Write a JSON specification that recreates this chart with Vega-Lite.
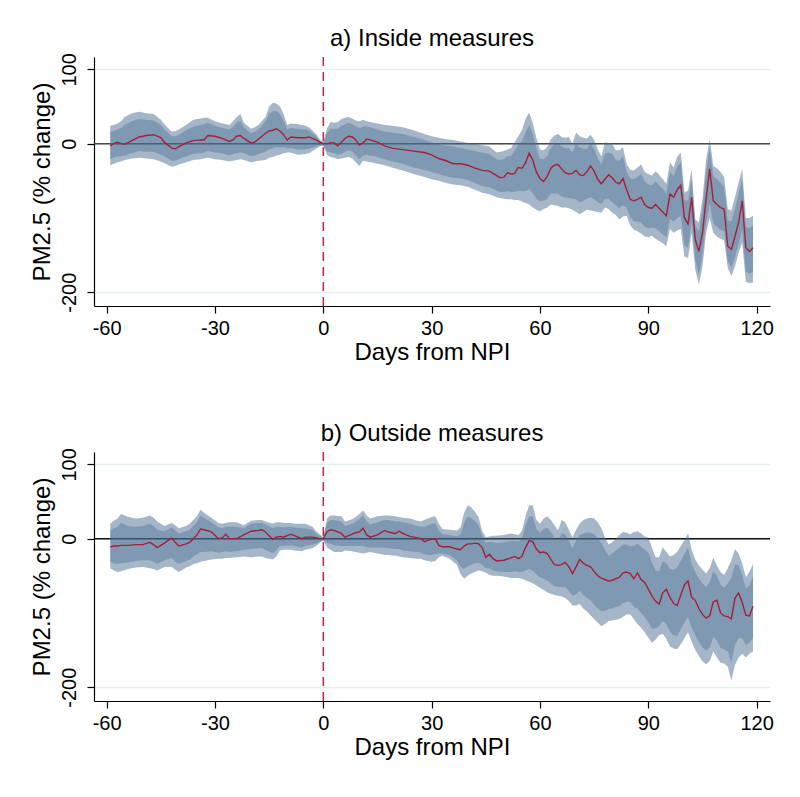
{
"$schema": "https://vega.github.io/schema/vega-lite/v6.json",
"background": "white",
"padding": {"left": 30, "top": 26, "right": 20, "bottom": 5},
"spacing": 57,
"config": {
  "font": "Liberation Sans",
  "view": {"stroke": null},
  "axis": {"domainColor": "black", "tickColor": "black", "labelColor": "black", "titleColor": "black", "labelFontSize": 20, "titleFontSize": 24, "titleFontWeight": "normal", "tickSize": 7, "domainWidth": 1.2, "tickWidth": 1.2, "labelFlush": false, "labelOverlap": false},
  "title": {"fontSize": 24, "fontWeight": "normal", "color": "black", "anchor": "middle"}
},
"datasets": {
"a": [
{"d":-59,"m":-3,"h":24,"l":-29,"h9":16,"l9":-21},
{"d":-58,"m":0,"h":25,"l":-27,"h9":17,"l9":-19},
{"d":-57,"m":2,"h":27,"l":-25,"h9":19,"l9":-17},
{"d":-56,"m":0,"h":30,"l":-24,"h9":21,"l9":-17},
{"d":-55,"m":-1,"h":36,"l":-22,"h9":25,"l9":-16},
{"d":-53,"m":4,"h":41,"l":-20,"h9":30,"l9":-13},
{"d":-51,"m":9,"h":43,"l":-19,"h9":33,"l9":-10},
{"d":-49,"m":11,"h":41,"l":-20,"h9":32,"l9":-11},
{"d":-47,"m":12,"h":40,"l":-21,"h9":31,"l9":-11},
{"d":-45,"m":8,"h":32,"l":-24,"h9":25,"l9":-15},
{"d":-44,"m":2,"h":26,"l":-26,"h9":19,"l9":-17},
{"d":-42,"m":-6,"h":16,"l":-31,"h9":10,"l9":-23},
{"d":-41,"m":-7,"h":17,"l":-30,"h9":10,"l9":-23},
{"d":-40,"m":-4,"h":19,"l":-28,"h9":12,"l9":-21},
{"d":-38,"m":1,"h":25,"l":-25,"h9":18,"l9":-17},
{"d":-36,"m":4,"h":32,"l":-22,"h9":23,"l9":-14},
{"d":-34,"m":5,"h":34,"l":-21,"h9":25,"l9":-13},
{"d":-33,"m":5,"h":35,"l":-20,"h9":26,"l9":-12},
{"d":-32,"m":11,"h":35,"l":-19,"h9":28,"l9":-10},
{"d":-30,"m":10,"h":30,"l":-21,"h9":24,"l9":-12},
{"d":-28,"m":7,"h":27,"l":-22,"h9":21,"l9":-13},
{"d":-26,"m":3,"h":25,"l":-24,"h9":19,"l9":-16},
{"d":-25,"m":5,"h":30,"l":-23,"h9":22,"l9":-14},
{"d":-24,"m":10,"h":36,"l":-22,"h9":28,"l9":-13},
{"d":-23,"m":11,"h":40,"l":-21,"h9":31,"l9":-12},
{"d":-22,"m":7,"h":28,"l":-22,"h9":22,"l9":-13},
{"d":-20,"m":1,"h":20,"l":-25,"h9":14,"l9":-17},
{"d":-19,"m":2,"h":22,"l":-24,"h9":16,"l9":-16},
{"d":-18,"m":6,"h":25,"l":-23,"h9":19,"l9":-14},
{"d":-16,"m":14,"h":36,"l":-22,"h9":30,"l9":-11},
{"d":-15,"m":17,"h":50,"l":-19,"h9":40,"l9":-8},
{"d":-14,"m":18,"h":55,"l":-18,"h9":44,"l9":-7},
{"d":-13,"m":20,"h":54,"l":-16,"h9":44,"l9":-5},
{"d":-12,"m":17,"h":50,"l":-15,"h9":40,"l9":-6},
{"d":-11,"m":12,"h":40,"l":-13,"h9":31,"l9":-5},
{"d":-10,"m":5,"h":25,"l":-12,"h9":19,"l9":-7},
{"d":-9,"m":9,"h":27,"l":-12,"h9":21,"l9":-6},
{"d":-7,"m":8,"h":26,"l":-15,"h9":20,"l9":-8},
{"d":-5,"m":8,"h":24,"l":-14,"h9":19,"l9":-8},
{"d":-4,"m":9,"h":22,"l":-13,"h9":18,"l9":-7},
{"d":-2,"m":5,"h":13,"l":-7,"h9":10,"l9":-4},
{"d":-1,"m":2,"h":6,"l":-4,"h9":4,"l9":-2},
{"d":0,"m":0,"h":2,"l":-3,"h9":2,"l9":-2},
{"d":1,"m":0,"h":20,"l":-15,"h9":14,"l9":-10},
{"d":2,"m":1,"h":29,"l":-18,"h9":20,"l9":-12},
{"d":3,"m":1,"h":28,"l":-19,"h9":20,"l9":-13},
{"d":4,"m":-3,"h":29,"l":-21,"h9":20,"l9":-15},
{"d":5,"m":2,"h":33,"l":-20,"h9":24,"l9":-14},
{"d":6,"m":7,"h":35,"l":-19,"h9":26,"l9":-11},
{"d":7,"m":10,"h":36,"l":-18,"h9":28,"l9":-9},
{"d":8,"m":9,"h":34,"l":-20,"h9":26,"l9":-11},
{"d":9,"m":5,"h":31,"l":-25,"h9":23,"l9":-16},
{"d":10,"m":-2,"h":30,"l":-30,"h9":21,"l9":-21},
{"d":11,"m":1,"h":32,"l":-23,"h9":23,"l9":-16},
{"d":12,"m":6,"h":30,"l":-24,"h9":23,"l9":-15},
{"d":13,"m":5,"h":29,"l":-25,"h9":22,"l9":-16},
{"d":15,"m":2,"h":27,"l":-27,"h9":19,"l9":-18},
{"d":17,"m":-3,"h":25,"l":-29,"h9":16,"l9":-21},
{"d":19,"m":-6,"h":24,"l":-32,"h9":15,"l9":-24},
{"d":22,"m":-8,"h":22,"l":-36,"h9":13,"l9":-27},
{"d":25,"m":-10,"h":18,"l":-41,"h9":9,"l9":-32},
{"d":28,"m":-12,"h":13,"l":-45,"h9":5,"l9":-35},
{"d":30,"m":-15,"h":10,"l":-48,"h9":2,"l9":-38},
{"d":32,"m":-20,"h":8,"l":-50,"h9":-1,"l9":-41},
{"d":34,"m":-23,"h":6,"l":-53,"h9":-3,"l9":-44},
{"d":36,"m":-27,"h":5,"l":-55,"h9":-4,"l9":-46},
{"d":38,"m":-27,"h":3,"l":-56,"h9":-6,"l9":-47},
{"d":40,"m":-29,"h":1,"l":-58,"h9":-8,"l9":-49},
{"d":42,"m":-33,"h":0,"l":-62,"h9":-10,"l9":-53},
{"d":44,"m":-36,"h":-2,"l":-66,"h9":-12,"l9":-57},
{"d":46,"m":-37,"h":-4,"l":-68,"h9":-14,"l9":-59},
{"d":48,"m":-43,"h":-12,"l":-72,"h9":-21,"l9":-63},
{"d":49,"m":-46,"h":-11,"l":-73,"h9":-22,"l9":-65},
{"d":50,"m":-45,"h":-10,"l":-74,"h9":-21,"l9":-65},
{"d":51,"m":-39,"h":-8,"l":-75,"h9":-17,"l9":-64},
{"d":52,"m":-41,"h":-6,"l":-75,"h9":-17,"l9":-65},
{"d":53,"m":-40,"h":2,"l":-76,"h9":-10,"l9":-65},
{"d":54,"m":-32,"h":10,"l":-76,"h9":-2,"l9":-63},
{"d":55,"m":-33,"h":18,"l":-78,"h9":3,"l9":-64},
{"d":56,"m":-26,"h":33,"l":-80,"h9":15,"l9":-64},
{"d":57,"m":-13,"h":42,"l":-82,"h9":25,"l9":-61},
{"d":58,"m":-22,"h":28,"l":-86,"h9":13,"l9":-67},
{"d":59,"m":-38,"h":8,"l":-89,"h9":-6,"l9":-74},
{"d":60,"m":-47,"h":-8,"l":-91,"h9":-20,"l9":-78},
{"d":61,"m":-51,"h":-9,"l":-88,"h9":-21,"l9":-77},
{"d":62,"m":-44,"h":-5,"l":-86,"h9":-17,"l9":-74},
{"d":63,"m":-33,"h":6,"l":-82,"h9":-6,"l9":-67},
{"d":64,"m":-29,"h":11,"l":-83,"h9":-1,"l9":-67},
{"d":65,"m":-28,"h":13,"l":-84,"h9":1,"l9":-67},
{"d":66,"m":-34,"h":9,"l":-86,"h9":-4,"l9":-71},
{"d":67,"m":-39,"h":8,"l":-86,"h9":-6,"l9":-72},
{"d":68,"m":-41,"h":9,"l":-87,"h9":-6,"l9":-73},
{"d":69,"m":-40,"h":0,"l":-89,"h9":-12,"l9":-74},
{"d":70,"m":-36,"h":15,"l":-92,"h9":0,"l9":-75},
{"d":71,"m":-42,"h":10,"l":-95,"h9":-5,"l9":-79},
{"d":72,"m":-43,"h":8,"l":-92,"h9":-7,"l9":-77},
{"d":73,"m":-38,"h":7,"l":-89,"h9":-7,"l9":-74},
{"d":74,"m":-30,"h":12,"l":-90,"h9":0,"l9":-72},
{"d":75,"m":-37,"h":5,"l":-91,"h9":-7,"l9":-75},
{"d":76,"m":-48,"h":-8,"l":-92,"h9":-20,"l9":-79},
{"d":77,"m":-54,"h":-17,"l":-93,"h9":-28,"l9":-81},
{"d":78,"m":-48,"h":2,"l":-86,"h9":-13,"l9":-74},
{"d":79,"m":-42,"h":1,"l":-88,"h9":-12,"l9":-74},
{"d":80,"m":-46,"h":0,"l":-93,"h9":-14,"l9":-79},
{"d":81,"m":-52,"h":-9,"l":-96,"h9":-22,"l9":-83},
{"d":82,"m":-54,"h":-9,"l":-102,"h9":-23,"l9":-87},
{"d":83,"m":-47,"h":-5,"l":-98,"h9":-17,"l9":-83},
{"d":84,"m":-62,"h":-28,"l":-97,"h9":-38,"l9":-86},
{"d":85,"m":-75,"h":-35,"l":-110,"h9":-47,"l9":-99},
{"d":86,"m":-77,"h":-36,"l":-116,"h9":-48,"l9":-104},
{"d":87,"m":-75,"h":-32,"l":-118,"h9":-45,"l9":-105},
{"d":88,"m":-72,"h":-28,"l":-121,"h9":-41,"l9":-106},
{"d":89,"m":-82,"h":-38,"l":-125,"h9":-51,"l9":-112},
{"d":90,"m":-86,"h":-41,"l":-126,"h9":-55,"l9":-114},
{"d":91,"m":-87,"h":-43,"l":-124,"h9":-56,"l9":-113},
{"d":92,"m":-82,"h":-37,"l":-128,"h9":-51,"l9":-114},
{"d":93,"m":-87,"h":-42,"l":-131,"h9":-56,"l9":-118},
{"d":94,"m":-92,"h":-48,"l":-134,"h9":-61,"l9":-122},
{"d":95,"m":-97,"h":-54,"l":-138,"h9":-67,"l9":-126},
{"d":96,"m":-68,"h":-25,"l":-115,"h9":-38,"l9":-101},
{"d":97,"m":-72,"h":-32,"l":-120,"h9":-44,"l9":-105},
{"d":98,"m":-62,"h":-18,"l":-117,"h9":-31,"l9":-100},
{"d":99,"m":-56,"h":-12,"l":-115,"h9":-25,"l9":-97},
{"d":100,"m":-100,"h":-66,"l":-152,"h9":-76,"l9":-137},
{"d":101,"m":-108,"h":-63,"l":-154,"h9":-77,"l9":-140},
{"d":102,"m":-72,"h":-34,"l":-120,"h9":-46,"l9":-105},
{"d":103,"m":-129,"h":-102,"l":-169,"h9":-110,"l9":-157},
{"d":104,"m":-145,"h":-106,"l":-190,"h9":-118,"l9":-176},
{"d":105,"m":-120,"h":-75,"l":-165,"h9":-89,"l9":-151},
{"d":106,"m":-75,"h":-22,"l":-120,"h9":-38,"l9":-106},
{"d":107,"m":-34,"h":6,"l":-100,"h9":-6,"l9":-80},
{"d":108,"m":-77,"h":-30,"l":-120,"h9":-44,"l9":-107},
{"d":109,"m":-82,"h":-33,"l":-125,"h9":-48,"l9":-112},
{"d":110,"m":-86,"h":-38,"l":-128,"h9":-53,"l9":-116},
{"d":111,"m":-88,"h":-45,"l":-130,"h9":-58,"l9":-118},
{"d":112,"m":-138,"h":-88,"l":-167,"h9":-103,"l9":-158},
{"d":113,"m":-142,"h":-90,"l":-178,"h9":-105,"l9":-167},
{"d":114,"m":-125,"h":-72,"l":-165,"h9":-88,"l9":-153},
{"d":115,"m":-106,"h":-52,"l":-147,"h9":-68,"l9":-135},
{"d":116,"m":-77,"h":-34,"l":-133,"h9":-47,"l9":-116},
{"d":117,"m":-140,"h":-100,"l":-186,"h9":-112,"l9":-172},
{"d":118,"m":-145,"h":-100,"l":-188,"h9":-114,"l9":-175},
{"d":119,"m":-140,"h":-97,"l":-187,"h9":-110,"l9":-173}
],
"b": [
{"d":-59,"m":-11,"h":20,"l":-40,"h9":11,"l9":-31},
{"d":-58,"m":-10,"h":24,"l":-43,"h9":14,"l9":-33},
{"d":-57,"m":-10,"h":27,"l":-45,"h9":16,"l9":-34},
{"d":-56,"m":-9,"h":33,"l":-44,"h9":21,"l9":-33},
{"d":-54,"m":-9,"h":29,"l":-41,"h9":17,"l9":-32},
{"d":-52,"m":-8,"h":27,"l":-39,"h9":16,"l9":-30},
{"d":-50,"m":-8,"h":28,"l":-38,"h9":17,"l9":-29},
{"d":-48,"m":-5,"h":31,"l":-40,"h9":20,"l9":-29},
{"d":-47,"m":-8,"h":28,"l":-41,"h9":17,"l9":-31},
{"d":-46,"m":-12,"h":23,"l":-43,"h9":12,"l9":-34},
{"d":-44,"m":-6,"h":17,"l":-38,"h9":10,"l9":-29},
{"d":-42,"m":1,"h":21,"l":-38,"h9":15,"l9":-26},
{"d":-41,"m":-5,"h":18,"l":-42,"h9":11,"l9":-31},
{"d":-40,"m":-10,"h":14,"l":-45,"h9":7,"l9":-34},
{"d":-38,"m":-7,"h":17,"l":-39,"h9":10,"l9":-30},
{"d":-37,"m":-5,"h":20,"l":-37,"h9":12,"l9":-28},
{"d":-36,"m":0,"h":25,"l":-34,"h9":17,"l9":-24},
{"d":-35,"m":5,"h":30,"l":-33,"h9":22,"l9":-21},
{"d":-34,"m":13,"h":39,"l":-31,"h9":31,"l9":-18},
{"d":-33,"m":12,"h":35,"l":-30,"h9":28,"l9":-18},
{"d":-31,"m":9,"h":28,"l":-28,"h9":22,"l9":-17},
{"d":-29,"m":0,"h":21,"l":-27,"h9":15,"l9":-19},
{"d":-28,"m":1,"h":20,"l":-27,"h9":14,"l9":-18},
{"d":-27,"m":6,"h":21,"l":-26,"h9":16,"l9":-17},
{"d":-26,"m":0,"h":22,"l":-26,"h9":16,"l9":-18},
{"d":-24,"m":0,"h":22,"l":-25,"h9":16,"l9":-17},
{"d":-22,"m":5,"h":18,"l":-24,"h9":14,"l9":-15},
{"d":-20,"m":10,"h":24,"l":-25,"h9":20,"l9":-14},
{"d":-18,"m":11,"h":25,"l":-24,"h9":21,"l9":-13},
{"d":-17,"m":12,"h":25,"l":-24,"h9":21,"l9":-13},
{"d":-16,"m":9,"h":23,"l":-26,"h9":19,"l9":-15},
{"d":-14,"m":-1,"h":20,"l":-28,"h9":14,"l9":-20},
{"d":-13,"m":2,"h":22,"l":-24,"h9":16,"l9":-16},
{"d":-12,"m":3,"h":22,"l":-16,"h9":16,"l9":-10},
{"d":-11,"m":2,"h":21,"l":-15,"h9":15,"l9":-10},
{"d":-9,"m":6,"h":21,"l":-15,"h9":16,"l9":-9},
{"d":-8,"m":4,"h":20,"l":-16,"h9":15,"l9":-10},
{"d":-6,"m":0,"h":20,"l":-17,"h9":14,"l9":-12},
{"d":-5,"m":2,"h":20,"l":-15,"h9":14,"l9":-10},
{"d":-3,"m":2,"h":16,"l":-13,"h9":12,"l9":-8},
{"d":-2,"m":1,"h":10,"l":-10,"h9":7,"l9":-7},
{"d":-1,"m":0,"h":6,"l":-6,"h9":4,"l9":-4},
{"d":0,"m":0,"h":2,"l":-2,"h9":2,"l9":-2},
{"d":1,"m":9,"h":27,"l":-12,"h9":21,"l9":-6},
{"d":2,"m":12,"h":31,"l":-15,"h9":25,"l9":-7},
{"d":3,"m":11,"h":31,"l":-18,"h9":25,"l9":-9},
{"d":5,"m":7,"h":30,"l":-18,"h9":23,"l9":-10},
{"d":6,"m":2,"h":23,"l":-16,"h9":17,"l9":-10},
{"d":8,"m":6,"h":26,"l":-17,"h9":20,"l9":-10},
{"d":9,"m":8,"h":29,"l":-18,"h9":23,"l9":-10},
{"d":10,"m":9,"h":33,"l":-19,"h9":26,"l9":-10},
{"d":11,"m":14,"h":38,"l":-20,"h9":31,"l9":-10},
{"d":12,"m":5,"h":31,"l":-19,"h9":23,"l9":-12},
{"d":13,"m":2,"h":27,"l":-18,"h9":19,"l9":-12},
{"d":15,"m":5,"h":30,"l":-20,"h9":22,"l9":-12},
{"d":17,"m":11,"h":31,"l":-22,"h9":25,"l9":-12},
{"d":18,"m":9,"h":31,"l":-22,"h9":25,"l9":-13},
{"d":20,"m":7,"h":30,"l":-23,"h9":23,"l9":-14},
{"d":21,"m":10,"h":29,"l":-24,"h9":23,"l9":-14},
{"d":22,"m":7,"h":28,"l":-25,"h9":22,"l9":-16},
{"d":24,"m":3,"h":27,"l":-26,"h9":20,"l9":-17},
{"d":26,"m":1,"h":24,"l":-27,"h9":17,"l9":-18},
{"d":27,"m":0,"h":23,"l":-27,"h9":16,"l9":-19},
{"d":28,"m":-4,"h":25,"l":-29,"h9":16,"l9":-21},
{"d":29,"m":-2,"h":27,"l":-30,"h9":18,"l9":-22},
{"d":30,"m":-1,"h":29,"l":-31,"h9":20,"l9":-22},
{"d":31,"m":0,"h":30,"l":-30,"h9":21,"l9":-21},
{"d":32,"m":-9,"h":20,"l":-25,"h9":11,"l9":-20},
{"d":33,"m":-11,"h":13,"l":-23,"h9":6,"l9":-20},
{"d":35,"m":-11,"h":12,"l":-27,"h9":5,"l9":-22},
{"d":37,"m":-14,"h":11,"l":-35,"h9":3,"l9":-29},
{"d":38,"m":-15,"h":15,"l":-48,"h9":6,"l9":-38},
{"d":39,"m":-10,"h":35,"l":-54,"h9":21,"l9":-41},
{"d":40,"m":-7,"h":45,"l":-50,"h9":30,"l9":-37},
{"d":41,"m":-7,"h":42,"l":-47,"h9":27,"l9":-35},
{"d":42,"m":-6,"h":36,"l":-45,"h9":24,"l9":-33},
{"d":43,"m":-7,"h":29,"l":-43,"h9":18,"l9":-32},
{"d":44,"m":-12,"h":10,"l":-44,"h9":4,"l9":-35},
{"d":45,"m":-25,"h":2,"l":-46,"h9":-6,"l9":-40},
{"d":46,"m":-21,"h":3,"l":-49,"h9":-4,"l9":-40},
{"d":47,"m":-27,"h":4,"l":-50,"h9":-5,"l9":-43},
{"d":48,"m":-30,"h":4,"l":-50,"h9":-6,"l9":-44},
{"d":50,"m":-29,"h":5,"l":-51,"h9":-5,"l9":-45},
{"d":52,"m":-26,"h":7,"l":-53,"h9":-3,"l9":-45},
{"d":53,"m":-24,"h":6,"l":-53,"h9":-3,"l9":-44},
{"d":54,"m":-27,"h":5,"l":-53,"h9":-4,"l9":-45},
{"d":55,"m":-24,"h":10,"l":-54,"h9":0,"l9":-45},
{"d":56,"m":-12,"h":30,"l":-56,"h9":18,"l9":-43},
{"d":57,"m":-3,"h":45,"l":-58,"h9":30,"l9":-41},
{"d":58,"m":-4,"h":45,"l":-60,"h9":30,"l9":-43},
{"d":59,"m":-14,"h":25,"l":-63,"h9":13,"l9":-48},
{"d":60,"m":-19,"h":20,"l":-66,"h9":8,"l9":-52},
{"d":61,"m":-18,"h":27,"l":-69,"h9":13,"l9":-54},
{"d":62,"m":-20,"h":30,"l":-72,"h9":15,"l9":-57},
{"d":63,"m":-28,"h":25,"l":-74,"h9":9,"l9":-60},
{"d":64,"m":-35,"h":18,"l":-76,"h9":2,"l9":-64},
{"d":65,"m":-36,"h":11,"l":-77,"h9":-3,"l9":-65},
{"d":66,"m":-35,"h":25,"l":-78,"h9":7,"l9":-65},
{"d":67,"m":-32,"h":22,"l":-80,"h9":6,"l9":-65},
{"d":68,"m":-38,"h":12,"l":-84,"h9":-3,"l9":-70},
{"d":69,"m":-47,"h":2,"l":-90,"h9":-13,"l9":-77},
{"d":70,"m":-38,"h":12,"l":-90,"h9":-3,"l9":-75},
{"d":71,"m":-28,"h":20,"l":-88,"h9":5,"l9":-70},
{"d":72,"m":-33,"h":25,"l":-94,"h9":7,"l9":-76},
{"d":73,"m":-36,"h":27,"l":-98,"h9":8,"l9":-80},
{"d":74,"m":-38,"h":28,"l":-103,"h9":8,"l9":-83},
{"d":75,"m":-44,"h":27,"l":-108,"h9":6,"l9":-89},
{"d":76,"m":-50,"h":22,"l":-113,"h9":1,"l9":-94},
{"d":77,"m":-53,"h":14,"l":-118,"h9":-6,"l9":-98},
{"d":78,"m":-55,"h":2,"l":-115,"h9":-15,"l9":-97},
{"d":79,"m":-57,"h":-8,"l":-111,"h9":-23,"l9":-95},
{"d":80,"m":-56,"h":-5,"l":-110,"h9":-20,"l9":-94},
{"d":81,"m":-54,"h":0,"l":-109,"h9":-16,"l9":-92},
{"d":82,"m":-52,"h":5,"l":-108,"h9":-12,"l9":-91},
{"d":83,"m":-46,"h":9,"l":-105,"h9":-8,"l9":-87},
{"d":84,"m":-45,"h":8,"l":-102,"h9":-8,"l9":-85},
{"d":85,"m":-47,"h":6,"l":-102,"h9":-10,"l9":-85},
{"d":86,"m":-54,"h":9,"l":-108,"h9":-10,"l9":-92},
{"d":87,"m":-46,"h":10,"l":-115,"h9":-7,"l9":-94},
{"d":88,"m":-55,"h":7,"l":-120,"h9":-11,"l9":-100},
{"d":89,"m":-59,"h":3,"l":-126,"h9":-15,"l9":-106},
{"d":90,"m":-68,"h":2,"l":-133,"h9":-19,"l9":-113},
{"d":91,"m":-77,"h":-12,"l":-140,"h9":-32,"l9":-121},
{"d":92,"m":-84,"h":-25,"l":-136,"h9":-43,"l9":-121},
{"d":93,"m":-88,"h":-25,"l":-130,"h9":-44,"l9":-118},
{"d":94,"m":-73,"h":-12,"l":-128,"h9":-30,"l9":-111},
{"d":95,"m":-68,"h":-18,"l":-135,"h9":-33,"l9":-115},
{"d":96,"m":-79,"h":-24,"l":-145,"h9":-41,"l9":-125},
{"d":97,"m":-87,"h":-22,"l":-148,"h9":-42,"l9":-130},
{"d":98,"m":-90,"h":-18,"l":-149,"h9":-39,"l9":-131},
{"d":99,"m":-76,"h":-10,"l":-142,"h9":-30,"l9":-122},
{"d":100,"m":-62,"h":-2,"l":-134,"h9":-20,"l9":-113},
{"d":101,"m":-57,"h":7,"l":-126,"h9":-12,"l9":-105},
{"d":102,"m":-79,"h":-15,"l":-138,"h9":-34,"l9":-120},
{"d":103,"m":-83,"h":-28,"l":-150,"h9":-45,"l9":-130},
{"d":104,"m":-94,"h":-36,"l":-158,"h9":-54,"l9":-139},
{"d":105,"m":-102,"h":-42,"l":-165,"h9":-60,"l9":-146},
{"d":106,"m":-107,"h":-47,"l":-169,"h9":-65,"l9":-151},
{"d":107,"m":-104,"h":-40,"l":-165,"h9":-59,"l9":-147},
{"d":108,"m":-85,"h":-26,"l":-152,"h9":-44,"l9":-132},
{"d":109,"m":-83,"h":-36,"l":-160,"h9":-50,"l9":-137},
{"d":110,"m":-100,"h":-45,"l":-167,"h9":-62,"l9":-147},
{"d":111,"m":-104,"h":-49,"l":-168,"h9":-66,"l9":-149},
{"d":112,"m":-105,"h":-40,"l":-172,"h9":-60,"l9":-152},
{"d":113,"m":-108,"h":-29,"l":-191,"h9":-53,"l9":-166},
{"d":114,"m":-80,"h":-14,"l":-170,"h9":-34,"l9":-143},
{"d":115,"m":-73,"h":-20,"l":-160,"h9":-36,"l9":-134},
{"d":116,"m":-86,"h":-33,"l":-155,"h9":-49,"l9":-134},
{"d":117,"m":-103,"h":-52,"l":-160,"h9":-67,"l9":-143},
{"d":118,"m":-104,"h":-45,"l":-155,"h9":-63,"l9":-140},
{"d":119,"m":-91,"h":-34,"l":-152,"h9":-51,"l9":-134}
]
},
"vconcat": [
{
  "width": 676, "height": 249,
  "title": {"text": "a) Inside measures", "offset": 2},
  "layer": [
    {"data": {"values": [{"z": 0}]}, "mark": {"type": "rule", "color": "#4a4a4a", "strokeWidth": 1.5},
     "encoding": {"y": {"field": "z", "type": "quantitative", "scale": {"domain": [-218.5, 116.6], "nice": false, "zero": false},
       "axis": {"title": "PM2.5 (% change)", "values": [100, 0, -200], "labelExpr": "'' + datum.value", "grid": true, "gridColor": "#e6eff2", "gridWidth": 1.5, "labelAngle": -90, "labelAlign": "center", "labelBaseline": "bottom", "labelPadding": 8, "titlePadding": 5}}}},
    {"data": {"name": "a"}, "mark": {"type": "area", "color": "#4a6d92", "opacity": 0.5},
     "encoding": {
       "x": {"field": "d", "type": "quantitative", "scale": {"domain": [-63.5, 123.7], "nice": false, "zero": false},
             "axis": {"title": "Days from NPI", "values": [-60, -30, 0, 30, 60, 90, 120], "labelExpr": "'' + datum.value", "grid": false, "labelPadding": 5, "titlePadding": 2}},
       "y": {"field": "l", "type": "quantitative", "title": "PM2.5 (% change)"},
       "y2": {"field": "h"}}},
    {"data": {"name": "a"}, "mark": {"type": "area", "color": "#4a6d92", "opacity": 0.4},
     "encoding": {"x": {"field": "d", "type": "quantitative", "title": "Days from NPI"}, "y": {"field": "l9", "type": "quantitative", "title": "PM2.5 (% change)"}, "y2": {"field": "h9"}}},
    {"data": {"name": "a"}, "mark": {"type": "line", "color": "#a3203a", "strokeWidth": 1.4},
     "encoding": {"x": {"field": "d", "type": "quantitative", "title": "Days from NPI"}, "y": {"field": "m", "type": "quantitative", "title": "PM2.5 (% change)"}}},
    {"data": {"values": [{"z": 0}]}, "mark": {"type": "rule", "color": "#c8243c", "strokeWidth": 1.5, "strokeDash": [9, 6]},
     "encoding": {"x": {"field": "z", "type": "quantitative", "title": "Days from NPI"}}}
  ]
},
{
  "width": 676, "height": 249,
  "title": {"text": "b) Outside measures", "offset": 2},
  "layer": [
    {"data": {"values": [{"z": 0}]}, "mark": {"type": "rule", "color": "#111111", "strokeWidth": 1.5},
     "encoding": {"y": {"field": "z", "type": "quantitative", "scale": {"domain": [-218.5, 116.6], "nice": false, "zero": false},
       "axis": {"title": "PM2.5 (% change)", "values": [100, 0, -200], "labelExpr": "'' + datum.value", "grid": true, "gridColor": "#e6eff2", "gridWidth": 1.5, "labelAngle": -90, "labelAlign": "center", "labelBaseline": "bottom", "labelPadding": 8, "titlePadding": 5}}}},
    {"data": {"name": "b"}, "mark": {"type": "area", "color": "#4a6d92", "opacity": 0.5},
     "encoding": {
       "x": {"field": "d", "type": "quantitative", "scale": {"domain": [-63.5, 123.7], "nice": false, "zero": false},
             "axis": {"title": "Days from NPI", "values": [-60, -30, 0, 30, 60, 90, 120], "labelExpr": "'' + datum.value", "grid": false, "labelPadding": 5, "titlePadding": 2}},
       "y": {"field": "l", "type": "quantitative", "title": "PM2.5 (% change)"},
       "y2": {"field": "h"}}},
    {"data": {"name": "b"}, "mark": {"type": "area", "color": "#4a6d92", "opacity": 0.4},
     "encoding": {"x": {"field": "d", "type": "quantitative", "title": "Days from NPI"}, "y": {"field": "l9", "type": "quantitative", "title": "PM2.5 (% change)"}, "y2": {"field": "h9"}}},
    {"data": {"name": "b"}, "mark": {"type": "line", "color": "#a3203a", "strokeWidth": 1.4},
     "encoding": {"x": {"field": "d", "type": "quantitative", "title": "Days from NPI"}, "y": {"field": "m", "type": "quantitative", "title": "PM2.5 (% change)"}}},
    {"data": {"values": [{"z": 0}]}, "mark": {"type": "rule", "color": "#c8243c", "strokeWidth": 1.5, "strokeDash": [9, 6]},
     "encoding": {"x": {"field": "z", "type": "quantitative", "title": "Days from NPI"}}}
  ]
}
]
}
